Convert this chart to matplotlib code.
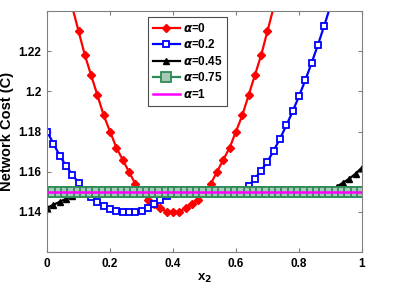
import numpy as np
import matplotlib
matplotlib.use("Agg")
import matplotlib.pyplot as plt

plt.rcParams['font.family'] = ['Liberation Sans', 'DejaVu Sans']
plt.rcParams['font.weight'] = 'bold'

# x positions (step 0.02)
x_all = np.round(np.arange(0, 1.0001, 0.02), 2)

# alpha = 0 (visible part only, rest is above the top)
x_a0 = np.round(np.arange(0.06, 0.7401, 0.02), 2)
y_a0 = [1.256, 1.242, 1.230, 1.218, 1.208, 1.198, 1.188, 1.180, 1.172, 1.166,
        1.160, 1.154, 1.150, 1.146, 1.144, 1.142, 1.140, 1.140, 1.140, 1.142,
        1.144, 1.146, 1.150, 1.154, 1.160, 1.166, 1.172, 1.180, 1.188, 1.198,
        1.208, 1.218, 1.230, 1.242, 1.256]

# alpha = 0.2
x_a02 = np.round(np.arange(0, 0.9201, 0.02), 2)
y_a02 = [1.180, 1.174, 1.168, 1.163, 1.1585, 1.1545, 1.151, 1.1475, 1.145, 1.143,
         1.1415, 1.1405, 1.140, 1.140, 1.140, 1.1405, 1.142, 1.1438, 1.146, 1.148,
         1.150, 1.150, 1.150, 1.150, 1.150, 1.150, 1.150, 1.150, 1.150, 1.150,
         1.150, 1.1505, 1.1528, 1.1565, 1.1605, 1.165, 1.1705, 1.1765, 1.183, 1.190,
         1.1975, 1.2055, 1.214, 1.223, 1.2325, 1.2425, 1.253]

# alpha = 0.45
y_a045 = [1.142, 1.1435, 1.145, 1.1465, 1.148, 1.1495] + [1.150] * 40 + \
         [1.1525, 1.1545, 1.1565, 1.159, 1.162]

# alpha = 0.75 and alpha = 1
y_a075 = [1.150] * 51
y_a1 = [1.150] * 51

labels = [r'$\alpha$=0', r'$\alpha$=0.2', r'$\alpha$=0.45', r'$\alpha$=0.75', r'$\alpha$=1']

fig = plt.figure(figsize=(3.99, 2.90), dpi=100)
ax = fig.add_axes([0.118, 0.131, 0.789, 0.831])

ax.plot(x_a0, y_a0, color='red', lw=1.6, marker='D', ms=4.5, mfc='red', mec='red', label=labels[0])
ax.plot(x_a02, y_a02, color='blue', lw=1.6, marker='s', ms=5, mfc='white', mec='blue', mew=1.3, label=labels[1])
ax.plot(x_all, y_a045, color='black', lw=1.6, marker='^', ms=5, mfc='black', mec='black', label=labels[2])
ax.plot(x_all, y_a075, color='#2e8b57', lw=1.6, marker='s', ms=6.5, mfc='#a8c8b8', mec='#2e8b57', mew=1.3, label=labels[3])
ax.plot(x_all, y_a1, color='magenta', lw=1.8, label=labels[4])

ax.set_xlim(0, 1)
ax.set_ylim(1.12, 1.24)
ax.set_xticks([0, 0.2, 0.4, 0.6, 0.8, 1])
ax.set_xticklabels(['0', '0.2', '0.4', '0.6', '0.8', '1'])
ax.set_yticks([1.14, 1.16, 1.18, 1.2, 1.22])
ax.set_yticklabels(['1.14', '1.16', '1.18', '1.2', '1.22'])
ax.tick_params(direction='in', top=True, right=True, length=3, color='0.5',
               labelsize=8.5, pad=4)
for lab in ax.get_xticklabels() + ax.get_yticklabels():
    lab.set_fontweight('bold')
for sp in ax.spines.values():
    sp.set_color('0.5')

ax.set_xlabel(r'x$_\mathbf{2}$', fontsize=9.5, fontweight='bold', labelpad=2)
ax.set_ylabel('Network Cost (C)', fontsize=10.5, fontweight='bold', labelpad=3)

leg = ax.legend(loc='upper left', bbox_to_anchor=(0.32, 0.975), borderaxespad=0,
                fancybox=False, edgecolor='0.3', framealpha=1, fontsize=8.5,
                handlelength=2.3, labelspacing=0.3, borderpad=0.4, handletextpad=0.3)
leg.get_frame().set_linewidth(0.8)
for t in leg.get_texts():
    t.set_fontweight('bold')

fig.savefig('out.png', dpi=100)
